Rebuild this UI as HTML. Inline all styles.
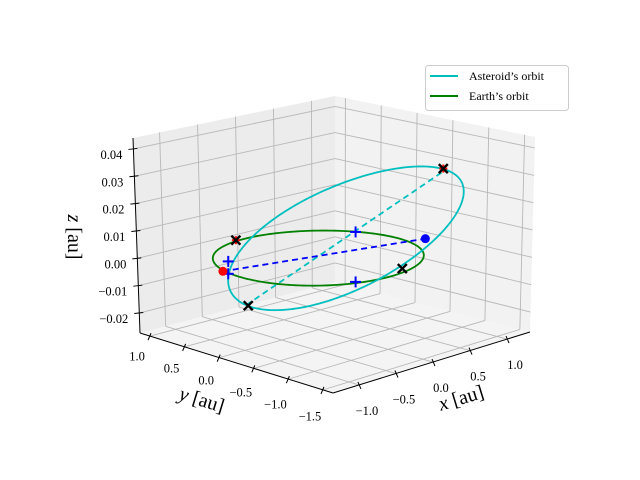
<!DOCTYPE html>
<html><head><meta charset="utf-8"><style>
html,body{margin:0;padding:0;background:#fff;}
svg{display:block;font-family:"Liberation Serif",serif;}
</style></head><body>
<svg id="chart" width="640" height="480" viewBox="0 0 640 480" xmlns="http://www.w3.org/2000/svg">
<g id="panes"></g>
<g id="grid"></g>
<g id="axes"></g>
<g id="series"></g>
<g id="markers"></g>
<text x="0" y="0" font-size="20" text-anchor="middle" transform="translate(463,404) rotate(-17)"><tspan font-style="italic">x</tspan> [au]</text>
<text x="0" y="0" font-size="20" text-anchor="middle" transform="translate(200,406) rotate(17)"><tspan font-style="italic">y</tspan> [au]</text>
<text x="0" y="0" font-size="20" text-anchor="middle" transform="translate(68,237) rotate(90)"><tspan font-style="italic">z</tspan> [au]</text>
<g>
<rect x="425.5" y="65.5" width="143" height="45" rx="3" fill="#fff" fill-opacity="0.8" stroke="#cccccc"/>
<line x1="430" y1="76" x2="458" y2="76" stroke="#00bfbf" stroke-width="2"/>
<text x="469" y="80" font-size="12">Asteroid’s orbit</text>
<line x1="430" y1="96" x2="458" y2="96" stroke="#008000" stroke-width="2"/>
<text x="469" y="100" font-size="12">Earth’s orbit</text>
</g>
</svg>
<script>
// ---- data ----
const xTicks = [-1.0, -0.5, 0.0, 0.5, 1.0];
const xTickLabels = ["−1.0", "−0.5", "0.0", "0.5", "1.0"];
const yTicks = [-1.5, -1.0, -0.5, 0.0, 0.5, 1.0];
const yTickLabels = ["−1.5", "−1.0", "−0.5", "0.0", "0.5", "1.0"];
const zTicks = [-0.02, -0.01, 0.0, 0.01, 0.02, 0.03, 0.04];
const zTickLabels = ["−0.02", "−0.01", "0.00", "0.01", "0.02", "0.03", "0.04"];
const xLim = [-1.35, 1.31];
const yLim = [-1.645, 1.145];
const zLim = [-0.0273, 0.044];
// Earth orbit: radius (au)
const earthRadius = [1.03];
// Asteroid orbit elements: semi-major axis, eccentricity, aphelion direction (deg), tan(inclination)
const asteroidA = [1.15];
const asteroidE = [0.27];
const asteroidAphelionDeg = [-11];
const asteroidTanInc = [0.016];
// marker positions (x, y, z) in au
const earthPos = [-0.96, 0.34, -0.0015];
const asteroidPos = [0.85, -0.62, 0.004];
const blackCrossX = [1.42, -0.825, -0.03, 0.25];
const blackCrossY = [-0.26, 0.13, 1.14, -0.93];
const blackCrossZ = [0.0238, -0.0134, -0.002, -0.0005];
const redCrossX = [1.42, -0.03];
const redCrossY = [-0.26, 1.14];
const redCrossZ = [0.0238, -0.002];
const bluePlusX = [-0.672, -0.985, 0.885, -0.318];
const bluePlusY = [0.569, 0.238, 0.405, -0.869];
const bluePlusZ = [-0.0015, -0.0015, -0.0003, -0.0015];

// ---- projection ----
const F=[333,393], R=[530,332], L=[140,333], B=[335,282];
const TF=[333,188], TR=[535,137], TL=[133,138], TB=[335,96];
function bil(p00,p10,p01,p11,u,v){
  return [p00[0]*(1-u)*(1-v)+p10[0]*u*(1-v)+p01[0]*(1-u)*v+p11[0]*u*v,
          p00[1]*(1-u)*(1-v)+p10[1]*u*(1-v)+p01[1]*(1-u)*v+p11[1]*u*v];
}
function proj(x,y,z){
  const u=(x-xLim[0])/(xLim[1]-xLim[0]), v=(y-yLim[0])/(yLim[1]-yLim[0]), w=(z-zLim[0])/(zLim[1]-zLim[0]);
  const b=bil(F,R,L,B,u,v), t=bil(TF,TR,TL,TB,u,v);
  return [b[0]+(t[0]-b[0])*w, b[1]+(t[1]-b[1])*w];
}
const NS="http://www.w3.org/2000/svg";
function mk(parent,tag,attrs){const e=document.createElementNS(NS,tag);for(const k in attrs)e.setAttribute(k,attrs[k]);parent.appendChild(e);return e;}
function pts(a){return a.map(p=>p[0].toFixed(2)+","+p[1].toFixed(2)).join(" ");}
const [x0,x1]=xLim,[y0,y1]=yLim,[z0,z1]=zLim;

// panes
const panes=document.getElementById('panes');
let e;
e=mk(panes,'polygon',{points:pts([proj(x0,y0,z0),proj(x1,y0,z0),proj(x1,y1,z0),proj(x0,y1,z0)]),fill:'#f4f4f4'});


e=mk(panes,'polygon',{points:pts([proj(x0,y1,z0),proj(x1,y1,z0),proj(x1,y1,z1),proj(x0,y1,z1)]),fill:'#ececec'});


e=mk(panes,'polygon',{points:pts([proj(x1,y0,z0),proj(x1,y1,z0),proj(x1,y1,z1),proj(x1,y0,z1)]),fill:'#f2f2f2'});



// grid
const grid=document.getElementById('grid');
function gl(a,b,name){const l=mk(grid,'line',{x1:a[0],y1:a[1],x2:b[0],y2:b[1],stroke:'#b8b8b8','stroke-width':0.9});

}
xTicks.forEach(x=>{gl(proj(x,y0,z0),proj(x,y1,z0),'grid-line-x');gl(proj(x,y1,z0),proj(x,y1,z1),'grid-line-x');});
yTicks.forEach(y=>{gl(proj(x0,y,z0),proj(x1,y,z0),'grid-line-y');gl(proj(x1,y,z0),proj(x1,y,z1),'grid-line-y');});
zTicks.forEach(z=>{gl(proj(x0,y1,z),proj(x1,y1,z),'grid-line-z');gl(proj(x1,y1,z),proj(x1,y0,z),'grid-line-z');});

// axes
const axes=document.getElementById('axes');
function al(a,b,name){const l=mk(axes,'line',{x1:a[0],y1:a[1],x2:b[0],y2:b[1],stroke:'#000','stroke-width':1});

}
al(proj(x0,y0,z0),proj(x1,y0,z0),'x-axis-line');
al(proj(x0,y0,z0),proj(x0,y1,z0),'y-axis-line');
al(proj(x0,y1,z0),proj(x0,y1,z1),'z-axis-line');
function tx(x,y,s,anchor,name){const t=mk(axes,'text',{x:x,y:y,'font-size':12.5,'text-anchor':anchor});t.textContent=s;

}
xTicks.forEach((x,i)=>{const p=proj(x,y0,z0);al([p[0]-1,p[1]-3],[p[0]+2,p[1]+4],'x-tick');tx(p[0]+8,p[1]+30,xTickLabels[i],'middle','x-tick-label');});
yTicks.forEach((y,i)=>{const p=proj(x0,y,z0);const v=(y-y0)/(y1-y0);al([p[0]+1,p[1]-3],[p[0]-2,p[1]+4],'y-tick');tx(p[0]-13,p[1]+24+7*(1-v),yTickLabels[i],'middle','y-tick-label');});
zTicks.forEach((z,i)=>{const p=proj(x0,y1,z);al([p[0]-5,p[1]+0.5],[p[0]+4,p[1]-0.5],'z-tick');tx(p[0]-11,p[1]+10,zTickLabels[i],'end','z-tick-label');});

// series
const series=document.getElementById('series');
const earthPts=[];for(let k=0;k<=240;k++){const t=2*Math.PI*k/240;earthPts.push(proj(earthRadius[0]*Math.cos(t),earthRadius[0]*Math.sin(t),-0.0008));}
e=mk(series,'polyline',{points:pts(earthPts),fill:'none',stroke:'#008000','stroke-width':1.8});


const a=asteroidA[0],ec=asteroidE[0],th=asteroidAphelionDeg[0]*Math.PI/180,ti=asteroidTanInc[0];
const bb=a*Math.sqrt(1-ec*ec)*1.03;
const D=[Math.cos(th),Math.sin(th),ti], Q=[-Math.sin(th),Math.cos(th),0];
const astPts=[];for(let k=0;k<=240;k++){const E=2*Math.PI*k/240;const c=a*(ec+Math.cos(E)),s=bb*Math.sin(E);
astPts.push(proj(c*D[0]+s*Q[0],c*D[1]+s*Q[1],c*D[2]+s*Q[2]));}
e=mk(series,'polyline',{points:pts(astPts),fill:'none',stroke:'#00bfbf','stroke-width':1.8});


const ap=a*(1+ec), pe=a*(1-ec);
const pA=proj(ap*D[0],ap*D[1],ap*D[2]), pP=proj(-pe*D[0],-pe*D[1],-pe*D[2]);
e=mk(series,'line',{x1:pP[0],y1:pP[1],x2:pA[0],y2:pA[1],stroke:'#00bfbf','stroke-width':1.8,'stroke-dasharray':'6,4'});


const pE=proj(earthPos[0],earthPos[1],earthPos[2]), pAs=proj(asteroidPos[0],asteroidPos[1],asteroidPos[2]);
e=mk(series,'line',{x1:pE[0],y1:pE[1],x2:pAs[0],y2:pAs[1],stroke:'#0000ff','stroke-width':1.8,'stroke-dasharray':'6,4'});



// markers
const mg=document.getElementById('markers');
function cross(p,col,sz,w){const g=mk(mg,'g',{});
mk(g,'line',{x1:p[0]-sz,y1:p[1]-sz,x2:p[0]+sz,y2:p[1]+sz,stroke:col,'stroke-width':w});
mk(g,'line',{x1:p[0]-sz,y1:p[1]+sz,x2:p[0]+sz,y2:p[1]-sz,stroke:col,'stroke-width':w});return g;}
function plus(p,col,sz,w){const g=mk(mg,'g',{});
mk(g,'line',{x1:p[0]-sz,y1:p[1],x2:p[0]+sz,y2:p[1],stroke:col,'stroke-width':w});
mk(g,'line',{x1:p[0],y1:p[1]-sz,x2:p[0],y2:p[1]+sz,stroke:col,'stroke-width':w});return g;}
redCrossX.forEach((x,i)=>{const p=proj(x,redCrossY[i],redCrossZ[i]);const g=plus(p,'#ff0000',4,2);

});
blackCrossX.forEach((x,i)=>{const p=proj(x,blackCrossY[i],blackCrossZ[i]);const g=cross(p,'#000',4.5,2.4);

});
bluePlusX.forEach((x,i)=>{const p=proj(x,bluePlusY[i],bluePlusZ[i]);const g=plus(p,'#0000ff',5.5,2);

});
e=mk(mg,'circle',{cx:pE[0],cy:pE[1],r:4.5,fill:'#ff0000'});


e=mk(mg,'circle',{cx:pAs[0],cy:pAs[1],r:4.5,fill:'#0000ff'});


</script>
</body></html>
